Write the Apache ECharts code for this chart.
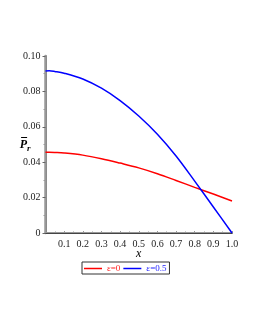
<!DOCTYPE html>
<html><head><meta charset="utf-8">
<script src="https://cdn.jsdelivr.net/npm/echarts@6/dist/echarts.min.js"></script>
<style>html,body{margin:0;padding:0;background:#fff}#c{width:255px;height:330px}</style>
</head><body><div id="c"></div>
<script>
const xs        = [0, 0.02, 0.05, 0.1, 0.2, 0.3, 0.4, 0.5, 0.6, 0.7, 0.8, 0.9, 1.0];
const eps0      = [0.0456, 0.0456, 0.0455, 0.0452, 0.0440, 0.0420, 0.0395, 0.0368, 0.0335, 0.0297, 0.0258, 0.0220, 0.0181];
const eps05     = [0.0915, 0.0917, 0.0913, 0.0903, 0.0870, 0.0818, 0.0748, 0.0661, 0.0558, 0.0435, 0.0293, 0.0147, 0.0];
const names     = ['ε=0', 'ε=0.5'];
const xTicks    = [0.1,0.2,0.3,0.4,0.5,0.6,0.7,0.8,0.9,1.0];
const yTicks    = [0, 0.02, 0.04, 0.06, 0.08, 0.10];

const font = 'Liberation Serif';
const chart = echarts.init(document.getElementById('c'), null, {renderer:'canvas'});
const pair = arr => xs.map((x,i)=>[x, arr[i]]);
chart.setOption({
  animation:false,
  textStyle:{fontFamily:font},
  grid:{left:45.5, right:23, top:56, bottom:97, containLabel:false},
  xAxis:[{
    type:'value', min:0, max:1, interval:0.1,
    name:'x', nameLocation:'middle', nameGap:15, nameMoveOverlap:false,
    nameTextStyle:{fontFamily:font, fontStyle:'italic', fontSize:12, color:'#000'},
    axisLine:{lineStyle:{color:'#999', width:2}},
    axisTick:{show:true, inside:true, length:2, lineStyle:{color:'#999'}},
    minorTick:{show:true, splitNumber:2, length:1.5, lineStyle:{color:'#999'}},
    splitLine:{show:false},
    axisLabel:{fontFamily:font, fontSize:10, color:'#222', margin:6,
      formatter:v=> xTicks.some(t=>Math.abs(t-v)<1e-9) ? v.toFixed(1) : ''}
  },{
    type:'value', position:'top', min:0, max:1,
    axisLine:{show:true, lineStyle:{color:'#444', width:1}},
    axisTick:{show:false}, axisLabel:{show:false}, splitLine:{show:false}
  }],
  yAxis:[{
    type:'value', min:0, max:0.1, interval:0.02,
    name:'{p|P\u0305}{s|r}', nameLocation:'middle', nameGap:15, nameRotate:0,
    nameMoveOverlap:false,
    nameTextStyle:{rich:{
      p:{fontFamily:font, fontStyle:'italic', fontWeight:'bold', fontSize:12, color:'#000'},
      s:{fontFamily:font, fontStyle:'italic', fontWeight:'bold', fontSize:9, color:'#000', padding:[8,0,0,0]}
    }},
    axisLine:{show:true, lineStyle:{color:'#333', width:1.5}},
    axisTick:{show:true, length:3, lineStyle:{color:'#666'}},
    minorTick:{show:true, splitNumber:2, length:2, lineStyle:{color:'#999'}},
    splitLine:{show:false},
    axisLabel:{fontFamily:font, fontSize:10, color:'#222', margin:5,
      formatter:v=> v===0 ? '0' : v.toFixed(2)}
  },{
    type:'value', position:'right', min:0, max:0.1,
    axisLine:{show:true, lineStyle:{color:'#999', width:2.5}},
    axisTick:{show:false}, axisLabel:{show:false}, splitLine:{show:false}
  }],
  legend:{
    top:262, left:82, icon:'rect', itemWidth:18, itemHeight:1.5, itemGap:3,
    padding:[2,3,1,2], borderColor:'#333', borderWidth:1,
    textStyle:{fontFamily:font, fontSize:9},
    data:[
      {name:names[0], textStyle:{color:'#ff2020'}},
      {name:names[1], textStyle:{color:'#2020ff'}}
    ]
  },
  series:[
    {name:names[0], type:'line', data:pair(eps0), smooth:0.35, symbol:'none',
     lineStyle:{color:'#ff0000', width:1.5}, itemStyle:{color:'#ff0000'}},
    {name:names[1], type:'line', data:pair(eps05), smooth:0.35, symbol:'none',
     lineStyle:{color:'#0000ff', width:1.5}, itemStyle:{color:'#0000ff'}}
  ]
});
</script></body></html>
